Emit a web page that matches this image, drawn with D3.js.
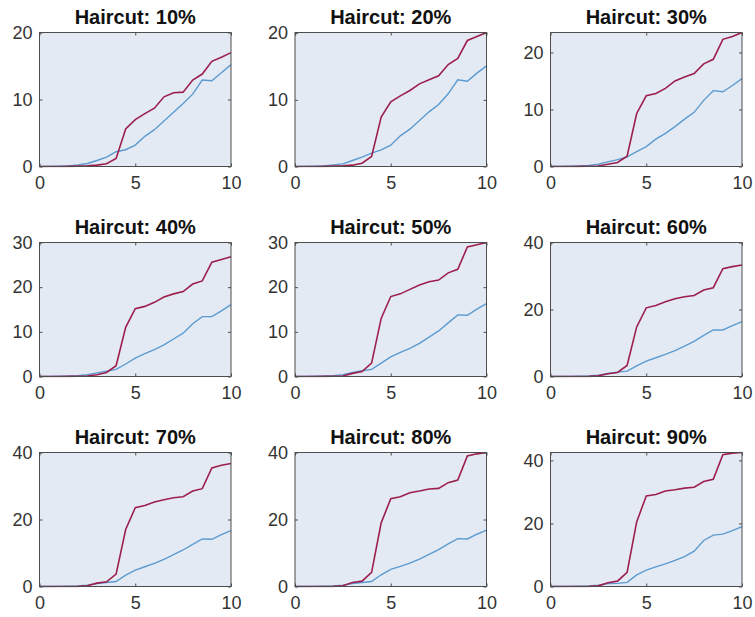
<!DOCTYPE html>
<html>
<head>
<meta charset="utf-8">
<script src="https://cdn.jsdelivr.net/npm/d3@7"></script>
<style>
  html, body { margin: 0; padding: 0; background: #ffffff; }
  svg { display: block; }
</style>
</head>
<body>
<svg id="chart" width="755" height="617"></svg>
<script>
// ---- data ----
const xValues = [0,0.5,1,1.5,2,2.5,3,3.5,4,4.5,5,5.5,6,6.5,7,7.5,8,8.5,9,9.5,10];
const panelTitles = ["Haircut: 10%","Haircut: 20%","Haircut: 30%","Haircut: 40%","Haircut: 50%","Haircut: 60%","Haircut: 70%","Haircut: 80%","Haircut: 90%"];
const yMaxes = [20, 20.1, 23.5, 30, 30, 40, 40, 40, 42.5];
const yTickSets = [[0,10,20],[0,10,20],[0,10,20],[0,10,20,30],[0,10,20,30],[0,20,40],[0,20,40],[0,20,40],[0,20,40]];
const xTicks = [0,5,10];

const redSeries = [
  [0,0,0,0.02,0.05,0.1,0.2,0.4,1.2,5.6,7.0,7.9,8.7,10.4,11.0,11.1,12.9,13.8,15.7,16.3,17.0],
  [0,0,0,0.02,0.05,0.1,0.2,0.5,1.5,7.4,9.7,10.6,11.4,12.4,13.0,13.6,15.3,16.2,18.9,19.5,20.1],
  [0,0,0,0.02,0.05,0.1,0.4,0.7,1.8,9.3,12.4,12.8,13.7,15.0,15.7,16.3,18.0,18.8,22.3,22.8,23.5],
  [0,0,0,0.02,0.05,0.1,0.4,0.9,2.4,11.0,15.2,15.7,16.6,17.8,18.5,19.0,20.7,21.4,25.6,26.2,26.8],
  [0,0,0,0.02,0.05,0.1,0.7,1.1,3.0,13.0,17.9,18.5,19.5,20.5,21.2,21.6,23.2,24.0,29.0,29.5,30.0],
  [0,0,0,0.02,0.05,0.2,0.8,1.2,3.3,14.8,20.5,21.2,22.3,23.2,23.8,24.2,25.8,26.5,32.2,32.8,33.3],
  [0,0,0,0.02,0.05,0.2,1.0,1.4,3.7,17.0,23.5,24.2,25.2,25.9,26.5,26.8,28.5,29.2,35.4,36.2,36.7],
  [0,0,0,0.02,0.05,0.2,1.2,1.6,4.2,19.0,26.2,26.8,28.0,28.5,29.1,29.3,31.0,31.8,39.0,39.6,40.0],
  [0,0,0,0.02,0.05,0.2,1.2,1.7,4.5,20.5,28.7,29.2,30.3,30.7,31.2,31.5,33.3,34.0,41.8,42.3,42.5]
];
const blueSeries = [
  [0,0.02,0.05,0.1,0.25,0.45,0.9,1.4,2.2,2.5,3.2,4.5,5.5,6.8,8.1,9.4,10.8,12.9,12.8,14.0,15.2],
  [0,0.02,0.05,0.1,0.25,0.4,0.9,1.4,2.0,2.5,3.2,4.6,5.6,6.9,8.2,9.3,10.9,13.0,12.8,14.0,15.1],
  [0,0.02,0.05,0.1,0.2,0.4,0.8,1.2,1.7,2.6,3.5,4.8,5.8,7.0,8.3,9.5,11.6,13.3,13.1,14.2,15.4],
  [0,0.02,0.05,0.1,0.2,0.4,0.8,1.2,1.6,2.8,4.1,5.1,6.0,7.1,8.4,9.7,11.8,13.4,13.4,14.7,16.1],
  [0,0.02,0.05,0.1,0.2,0.4,0.9,1.3,1.6,3.0,4.4,5.4,6.3,7.4,8.8,10.2,12.0,13.8,13.7,15.1,16.3],
  [0,0.02,0.05,0.1,0.2,0.4,0.9,1.3,1.6,3.2,4.6,5.6,6.6,7.7,9.1,10.5,12.3,13.9,13.9,15.2,16.4],
  [0,0.02,0.05,0.1,0.2,0.4,0.9,1.2,1.5,3.4,4.9,5.9,6.9,8.1,9.5,10.9,12.6,14.2,14.1,15.5,16.7],
  [0,0.02,0.05,0.1,0.2,0.4,0.9,1.2,1.5,3.5,5.1,6.0,7.0,8.2,9.6,11.0,12.7,14.3,14.2,15.6,16.8],
  [0,0.02,0.05,0.1,0.2,0.4,0.9,1.0,1.3,3.7,5.2,6.2,7.2,8.3,9.5,11.2,14.6,16.3,16.6,17.7,19.0]
];

// ---- layout ----
const colLefts = [39.5, 295, 550.5];
const rowTops = [32.5, 242.5, 452.5];
const plotW = 191.5, plotH = 134;
const redColor = "#9c1f4e", blueColor = "#5b9bd1";
const bgColor = "#e3eaf3", axisColor = "#4d4d4d", textColor = "#333333";
const font = "'Liberation Sans', Arial, Helvetica, sans-serif";

const svg = d3.select("#chart");

panelTitles.forEach((title, i) => {
  const r = Math.floor(i / 3), c = i % 3;
  const g = svg.append("g").attr("transform", `translate(${colLefts[c]},${rowTops[r]})`);
  const x = d3.scaleLinear().domain([0, 10]).range([0, plotW]);
  const y = d3.scaleLinear().domain([0, yMaxes[i]]).range([plotH, 0]);

  g.append("rect").attr("width", plotW).attr("height", plotH).attr("fill", bgColor);

  const line = d3.line().x((d, k) => x(xValues[k])).y(d => y(d));
  const clipId = "clip" + i;
  g.append("clipPath").attr("id", clipId).append("rect")
    .attr("x", -1).attr("y", -1).attr("width", plotW + 2).attr("height", plotH + 2);

  g.append("path").datum(blueSeries[i]).attr("d", line)
    .attr("fill", "none").attr("stroke", blueColor).attr("stroke-width", 1.4)
    .attr("clip-path", `url(#${clipId})`);
  g.append("path").datum(redSeries[i]).attr("d", line)
    .attr("fill", "none").attr("stroke", redColor).attr("stroke-width", 1.6)
    .attr("clip-path", `url(#${clipId})`);

  // axes (ticks inward), box on all sides
  const tl = 3;
  const xAxisB = d3.axisBottom(x).tickValues(xTicks).tickSize(-tl).tickPadding(10).tickFormat(d3.format("d"));
  const xAxisT = d3.axisTop(x).tickValues(xTicks).tickSize(-tl).tickFormat("");
  const yAxisL = d3.axisLeft(y).tickValues(yTickSets[i]).tickSize(-tl).tickPadding(7).tickFormat(d3.format("d"));
  const yAxisR = d3.axisRight(y).tickValues(yTickSets[i]).tickSize(-tl).tickFormat("");

  const styleAxis = sel => {
    sel.selectAll(".domain").remove();
    sel.selectAll("line").attr("stroke", axisColor);
    sel.selectAll("text").attr("fill", textColor).style("font-family", font).style("font-size", "18px");
  };
  g.append("g").attr("transform", `translate(0,${plotH})`).call(xAxisB).call(styleAxis);
  g.append("g").call(xAxisT).call(styleAxis);
  g.append("g").call(yAxisL).call(styleAxis);
  g.append("g").attr("transform", `translate(${plotW},0)`).call(yAxisR).call(styleAxis);

  g.append("rect").attr("width", plotW).attr("height", plotH)
    .attr("fill", "none").attr("stroke", axisColor).attr("stroke-width", 1);

  g.append("text").attr("x", plotW / 2).attr("y", -8.5)
    .attr("text-anchor", "middle").attr("fill", "#111")
    .style("font-family", font).style("font-weight", "bold").style("font-size", "20px")
    .text(title);
});
</script>
</body>
</html>
